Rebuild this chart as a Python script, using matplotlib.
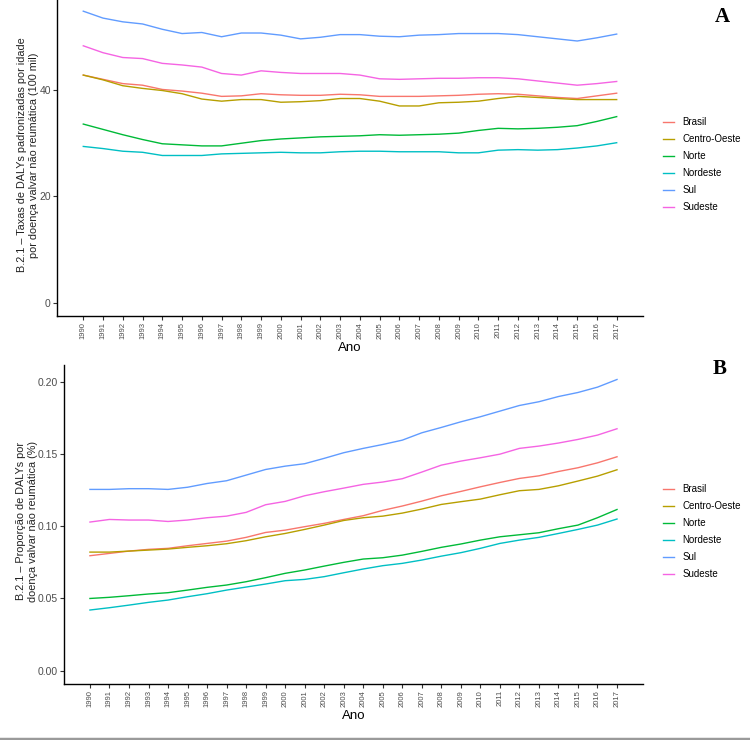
import matplotlib
matplotlib.use("Agg")
import matplotlib.pyplot as plt
from matplotlib.lines import Line2D

plt.rcParams['font.family'] = ['Liberation Sans', 'DejaVu Sans']

anos = list(range(1990, 2018))
regioes = ["Brasil", "Centro-Oeste", "Norte", "Nordeste", "Sul", "Sudeste"]
cores = ["#F8766D", "#B79F00", "#00BA38", "#00BFC4", "#619CFF", "#F564E3"]

# Painel A - taxas padronizadas por idade (100 mil)
taxa_brasil = [42.8, 42.0, 41.2, 40.9, 40.1, 39.8, 39.4, 38.8, 38.9, 39.3, 39.1, 39.0, 39.0, 39.2,
               39.1, 38.8, 38.8, 38.8, 38.9, 39.0, 39.2, 39.3, 39.2, 38.9, 38.6, 38.4, 38.9, 39.4]
taxa_centro = [42.8, 41.9, 40.8, 40.3, 39.9, 39.3, 38.3, 37.9, 38.2, 38.2, 37.7, 37.8, 38.0, 38.4,
               38.4, 37.9, 37.0, 37.0, 37.6, 37.7, 37.9, 38.4, 38.8, 38.6, 38.4, 38.2, 38.2, 38.2]
taxa_norte = [33.6, 32.6, 31.6, 30.7, 29.9, 29.7, 29.5, 29.5, 30.0, 30.5, 30.8, 31.0, 31.2, 31.3,
              31.4, 31.6, 31.5, 31.6, 31.7, 31.9, 32.4, 32.8, 32.7, 32.8, 33.0, 33.3, 34.1, 35.0]
taxa_nordeste = [29.4, 29.0, 28.5, 28.3, 27.7, 27.7, 27.7, 28.0, 28.1, 28.2, 28.3, 28.2, 28.2, 28.4,
                 28.5, 28.5, 28.4, 28.4, 28.4, 28.2, 28.2, 28.7, 28.8, 28.7, 28.8, 29.1, 29.5, 30.1]
taxa_sul = [54.8, 53.5, 52.8, 52.4, 51.4, 50.6, 50.8, 50.0, 50.7, 50.7, 50.3, 49.6, 49.9, 50.4,
            50.4, 50.1, 50.0, 50.3, 50.4, 50.6, 50.6, 50.6, 50.4, 50.0, 49.6, 49.2, 49.8, 50.5]
taxa_sudeste = [48.3, 47.0, 46.1, 45.9, 45.0, 44.7, 44.3, 43.1, 42.8, 43.6, 43.3, 43.1, 43.1, 43.1,
                42.8, 42.1, 42.0, 42.1, 42.2, 42.2, 42.3, 42.3, 42.1, 41.7, 41.3, 40.9, 41.2, 41.6]

# Painel B - proporcao de DALYs (%)
prop_brasil = [0.0796, 0.0812, 0.0828, 0.0840, 0.0847, 0.0865, 0.0881, 0.0897, 0.0923, 0.0957,
               0.0973, 0.0997, 0.1020, 0.1047, 0.1073, 0.1110, 0.1140, 0.1174, 0.1211, 0.1241,
               0.1273, 0.1303, 0.1331, 0.1349, 0.1379, 0.1405, 0.1439, 0.1481]
prop_centro = [0.0821, 0.0821, 0.0828, 0.0835, 0.0842, 0.0854, 0.0865, 0.0879, 0.0900, 0.0927,
               0.0950, 0.0978, 0.1008, 0.1040, 0.1059, 0.1070, 0.1091, 0.1119, 0.1151, 0.1170,
               0.1188, 0.1218, 0.1246, 0.1255, 0.1280, 0.1313, 0.1347, 0.1391]
prop_norte = [0.0500, 0.0508, 0.0519, 0.0531, 0.0540, 0.0558, 0.0577, 0.0593, 0.0616, 0.0644,
              0.0674, 0.0697, 0.0724, 0.0750, 0.0773, 0.0782, 0.0800, 0.0826, 0.0854, 0.0877,
              0.0904, 0.0927, 0.0941, 0.0955, 0.0983, 0.1008, 0.1059, 0.1116]
prop_nordeste = [0.0420, 0.0436, 0.0454, 0.0473, 0.0489, 0.0512, 0.0533, 0.0558, 0.0579, 0.0600,
                 0.0623, 0.0632, 0.0651, 0.0678, 0.0704, 0.0727, 0.0743, 0.0766, 0.0793, 0.0817,
                 0.0847, 0.0881, 0.0904, 0.0923, 0.0950, 0.0978, 0.1008, 0.1050]
prop_sul = [0.1255, 0.1255, 0.1260, 0.1260, 0.1255, 0.1270, 0.1296, 0.1315, 0.1354, 0.1393,
            0.1416, 0.1433, 0.1470, 0.1509, 0.1539, 0.1566, 0.1596, 0.1647, 0.1684, 0.1723,
            0.1758, 0.1797, 0.1836, 0.1862, 0.1898, 0.1926, 0.1963, 0.2016]
prop_sudeste = [0.1029, 0.1047, 0.1043, 0.1043, 0.1033, 0.1043, 0.1059, 0.1070, 0.1096, 0.1149,
                0.1172, 0.1211, 0.1239, 0.1264, 0.1290, 0.1306, 0.1329, 0.1375, 0.1423, 0.1451,
                0.1474, 0.1499, 0.1539, 0.1555, 0.1576, 0.1601, 0.1631, 0.1675]

taxas = [taxa_brasil, taxa_centro, taxa_norte, taxa_nordeste, taxa_sul, taxa_sudeste]
props = [prop_brasil, prop_centro, prop_norte, prop_nordeste, prop_sul, prop_sudeste]

fig = plt.figure(figsize=(7.5, 7.4), dpi=100)
ax_a = fig.add_axes([0.076, 0.573, 0.7813, 0.427])
ax_b = fig.add_axes([0.0853, 0.0757, 0.772, 0.431])


def estilo(ax, serie, ylabel, ylim, yticks, yfmt, letra, letra_xy, label_x):
    for valores, nome, cor in zip(serie, regioes, cores):
        ax.plot(anos, valores, color=cor, lw=1.0, label=nome)
    ax.set_xlim(1988.67, 2018.33)
    ax.set_ylim(*ylim)
    ax.set_xticks(anos)
    ax.set_xticklabels([str(a) for a in anos], rotation=90, fontsize=5.5, color="#4D4D4D")
    ax.set_yticks(yticks)
    ax.set_yticklabels([yfmt.format(v) for v in yticks], fontsize=7.5, color="#4D4D4D")
    ax.tick_params(length=3, width=0.8, color="#333333", pad=1.5)
    for lado in ["top", "right"]:
        ax.spines[lado].set_visible(False)
    for lado in ["left", "bottom"]:
        ax.spines[lado].set_linewidth(1.0)
    ax.set_xlabel("Ano", fontsize=9.5, labelpad=2)
    ax.set_ylabel(ylabel, fontsize=7.8, color="#222222")
    ax.yaxis.set_label_coords(label_x, 0.51)
    ax.legend(loc="center left", bbox_to_anchor=(1.0, 0.478), frameon=False,
              fontsize=7, handlelength=1.05, labelspacing=0.72, handletextpad=0.9,
              borderaxespad=1.7)
    ax.text(letra_xy[0], letra_xy[1], letra, transform=ax.transAxes, fontsize=15,
            fontweight="bold", family="Liberation Serif", va="top", ha="center")


estilo(ax_a, taxas,
       "B.2.1 – Taxas de DALYs padronizadas por idade\npor doença valvar não reumática (100 mil)",
       (-2.44, 56.9), [0, 20, 40], "{:.0f}", "A", (1.135, 0.978), -0.031)
estilo(ax_b, props,
       "B.2.1 – Proporção de DALYs por\ndoença valvar não reumática (%)",
       (-0.0092, 0.2116), [0.0, 0.05, 0.10, 0.15, 0.20], "{:.2f}", "B", (1.133, 1.019), -0.045)

fig.add_artist(Line2D([0, 1], [0.002, 0.002], color="#9A9A9A", lw=2.5, transform=fig.transFigure))

fig.savefig("out.png", dpi=100)
